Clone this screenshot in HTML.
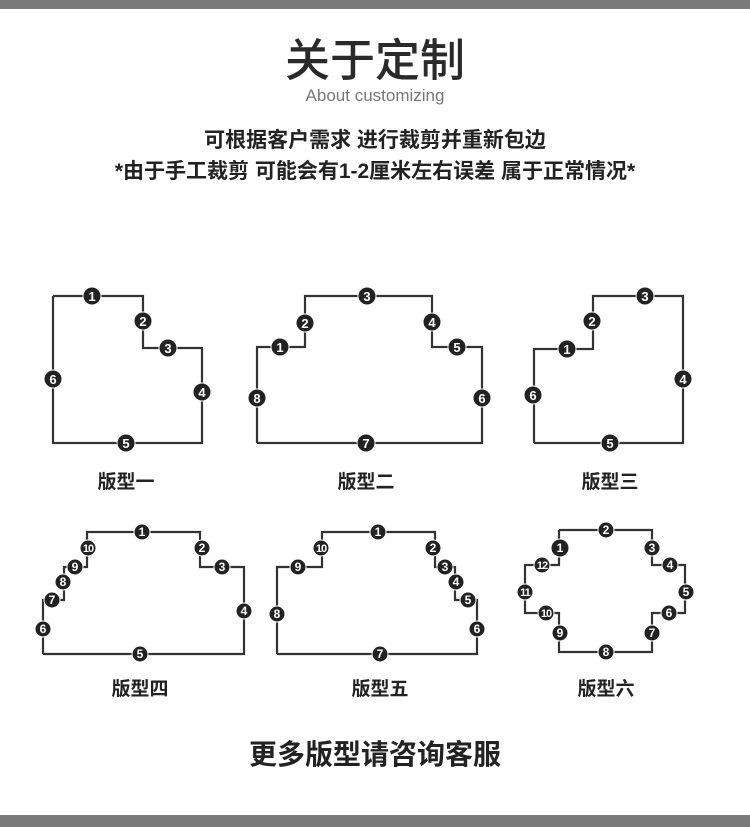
<!DOCTYPE html>
<html><head><meta charset="utf-8"><style>
html,body{margin:0;padding:0;background:#fff;}
body{width:750px;height:827px;position:relative;overflow:hidden;font-family:"Liberation Sans","Noto Sans CJK SC",sans-serif;}
.bar{position:absolute;left:0;width:750px;background:#7a7a7a;}
.t{position:absolute;left:0;width:750px;text-align:center;color:#222;white-space:nowrap;}
</style></head><body>
<div class="bar" style="top:0;height:9px"></div>
<div class="bar" style="top:815px;height:12px"></div>
<div class="t" style="top:34px;font-size:45px;line-height:54px;font-weight:500;color:#2a2a2a">关于定制</div>
<div class="t" style="top:85px;font-size:17px;line-height:22px;color:#777;">About customizing</div>
<div class="t" style="top:127px;font-size:21px;line-height:28px;font-weight:bold;">可根据客户需求 进行裁剪并重新包边</div>
<div class="t" style="top:158px;font-size:21px;line-height:28px;font-weight:bold;">*由于手工裁剪 可能会有1-2厘米左右误差 属于正常情况*</div>
<div class="t" style="top:737px;font-size:28px;line-height:36px;font-weight:bold;">更多版型请咨询客服</div>
<svg width="750" height="827" style="position:absolute;left:0;top:0" xmlns="http://www.w3.org/2000/svg">
<g fill="none" stroke="#333" stroke-width="2.2">
<polyline points="53,296 143,296 143,348 202,348 202,443 53,443 53,296"/>
<polyline points="257,443 257,347 305,347 305,296 432,296 432,347 482,347 482,443 257,443"/>
<polyline points="534,443 534,349 593,349 593,296 683,296 683,443 534,443"/>
<polyline points="43,654 43,600 64,600 64,567 87,567 87,532 200,532 200,567 244,567 244,654 43,654"/>
<polyline points="277,654 277,567 322,567 322,532 435,532 435,567 455,567 455,600 477,600 477,654 277,654"/>
<polyline points="559,530 652,530 652,565 685,565 685,613 652,613 652,652 559,652 559,613 525,613 525,565 559,565 559,530"/>
</g>
<g fill="#222" stroke="#fff" stroke-width="1">
<circle cx="92" cy="296" r="9"/><circle cx="143" cy="321" r="9"/><circle cx="168" cy="348" r="9"/><circle cx="202" cy="392" r="9"/><circle cx="126" cy="443" r="9"/><circle cx="53" cy="379" r="9"/>
<circle cx="280" cy="347" r="9"/><circle cx="305" cy="323" r="9"/><circle cx="367" cy="296" r="9"/><circle cx="432" cy="322" r="9"/><circle cx="457" cy="347" r="9"/><circle cx="482" cy="398" r="9"/><circle cx="366" cy="443" r="9"/><circle cx="257" cy="398" r="9"/>
<circle cx="567" cy="349" r="9"/><circle cx="592" cy="321" r="9"/><circle cx="645" cy="296" r="9"/><circle cx="683" cy="379" r="9"/><circle cx="610" cy="443" r="9"/><circle cx="533" cy="395" r="9"/>
<circle cx="142" cy="532" r="8"/><circle cx="202" cy="548" r="8"/><circle cx="222" cy="567" r="8"/><circle cx="244" cy="611" r="8"/><circle cx="140" cy="654" r="8"/><circle cx="43" cy="629" r="8"/><circle cx="52" cy="600" r="8"/><circle cx="63" cy="582" r="8"/><circle cx="75" cy="567" r="8"/><circle cx="88" cy="548" r="8"/>
<circle cx="378" cy="532" r="8"/><circle cx="433" cy="548" r="8"/><circle cx="445" cy="567" r="8"/><circle cx="456" cy="582" r="8"/><circle cx="468" cy="600" r="8"/><circle cx="477" cy="629" r="8"/><circle cx="380" cy="654" r="8"/><circle cx="277" cy="614" r="8"/><circle cx="298" cy="567" r="8"/><circle cx="321" cy="548" r="8"/>
<circle cx="560" cy="548" r="9"/><circle cx="606" cy="530" r="8"/><circle cx="652" cy="548" r="8"/><circle cx="670" cy="565" r="8"/><circle cx="686" cy="592" r="8"/><circle cx="669" cy="613" r="8"/><circle cx="652" cy="633" r="8"/><circle cx="606" cy="652" r="8"/><circle cx="560" cy="633" r="8"/><circle cx="546" cy="613" r="8"/><circle cx="525" cy="592" r="8"/><circle cx="542" cy="565" r="8"/>
</g>
<g font-family="Liberation Sans,sans-serif" font-weight="bold" font-size="13" text-anchor="middle" fill="#fff">
<text x="92" y="301">1</text><text x="143" y="326">2</text><text x="168" y="353">3</text><text x="202" y="397">4</text><text x="126" y="448">5</text><text x="53" y="384">6</text>
<text x="280" y="352">1</text><text x="305" y="328">2</text><text x="367" y="301">3</text><text x="432" y="327">4</text><text x="457" y="352">5</text><text x="482" y="403">6</text><text x="366" y="448">7</text><text x="257" y="403">8</text>
<text x="567" y="354">1</text><text x="592" y="326">2</text><text x="645" y="301">3</text><text x="683" y="384">4</text><text x="610" y="448">5</text><text x="533" y="400">6</text>
</g>
<g font-family="Liberation Sans,sans-serif" font-weight="bold" font-size="12" text-anchor="middle" fill="#fff">
<text x="142" y="536">1</text><text x="202" y="552">2</text><text x="222" y="571">3</text><text x="244" y="615">4</text><text x="140" y="658">5</text><text x="43" y="633">6</text><text x="52" y="604">7</text><text x="63" y="586">8</text><text x="75" y="571">9</text>
<text x="378" y="536">1</text><text x="433" y="552">2</text><text x="445" y="571">3</text><text x="456" y="586">4</text><text x="468" y="604">5</text><text x="477" y="633">6</text><text x="380" y="658">7</text><text x="277" y="618">8</text><text x="298" y="571">9</text>
<text x="560" y="552">1</text><text x="606" y="534">2</text><text x="652" y="552">3</text><text x="670" y="569">4</text><text x="686" y="596">5</text><text x="669" y="617">6</text><text x="652" y="637">7</text><text x="606" y="656">8</text><text x="560" y="637">9</text>
</g>
<g font-family="Liberation Sans,sans-serif" font-weight="bold" font-size="11" text-anchor="middle" fill="#fff" letter-spacing="-1">
<text x="88" y="552">10</text><text x="321" y="552">10</text><text x="546" y="617">10</text><text x="525" y="596">11</text><text x="542" y="569">12</text>
</g>
<g font-family="Liberation Sans,Noto Sans CJK SC,sans-serif" font-weight="bold" font-size="19" text-anchor="middle" fill="#222">
<text x="126" y="488">版型一</text><text x="366" y="488">版型二</text><text x="610" y="488">版型三</text>
<text x="140" y="695">版型四</text><text x="380" y="695">版型五</text><text x="606" y="695">版型六</text>
</g>
</svg>
</body></html>
